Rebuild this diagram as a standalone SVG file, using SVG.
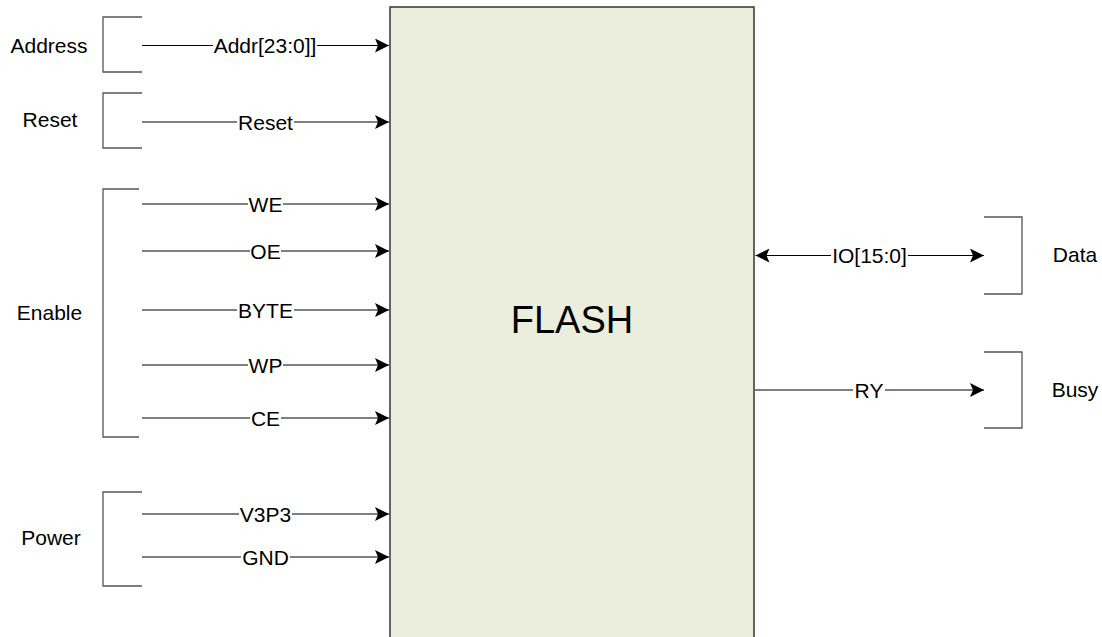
<svg xmlns="http://www.w3.org/2000/svg" width="1102" height="637" viewBox="0 0 1102 637">
<style>
text{font-family:"Liberation Sans",Arial,sans-serif;fill:#000}
.grp{font-size:21px;text-anchor:middle}
.lbl{font-size:21px;text-anchor:middle}
.br{fill:none;stroke:#555;stroke-width:1.3}
.wire{fill:none;stroke:#000;stroke-width:1}
.bg{fill:#fff}
</style>
<defs>
<marker id="arr" markerUnits="userSpaceOnUse" markerWidth="14" markerHeight="14" refX="14" refY="7" orient="auto-start-reverse">
<path d="M0,0 L14,7 L0,14 L3,7 z" fill="#000"/>
</marker>
</defs>
<rect width="1102" height="637" fill="#fff"/>
<g id="flash">
<rect x="390" y="7" width="364" height="640" fill="#ECEEDD" stroke="#333" stroke-width="1.5"/>
<text x="572" y="333" style="font-size:38px;text-anchor:middle">FLASH</text>
</g>
<g id="address">
<path class="br" d="M142,17 H103 V72 H142"/>
<text class="grp" x="49" y="53">Address</text>
</g>
<g id="reset">
<path class="br" d="M142,93 H103 V148 H142"/>
<text class="grp" x="50" y="127">Reset</text>
</g>
<g id="enable">
<path class="br" d="M139,189 H103 V437 H139"/>
<text class="grp" x="49.5" y="320">Enable</text>
</g>
<g id="power">
<path class="br" d="M142,492 H103 V586 H142"/>
<text class="grp" x="51" y="545">Power</text>
</g>
<g id="data">
<path class="br" d="M984,217 H1022 V294 H984"/>
<text class="grp" x="1075" y="262">Data</text>
</g>
<g id="busy">
<path class="br" d="M984,352 H1022 V428 H984"/>
<text class="grp" x="1075" y="397">Busy</text>
</g>
<g id="connectors">
<path class="wire" d="M142,45.5 H389" marker-end="url(#arr)"/>
<rect class="bg" x="213" y="35" width="104" height="22"/>
<text class="lbl" x="265" y="53">Addr[23:0]]</text>

<path class="wire" d="M142,122 H389" marker-end="url(#arr)"/>
<rect class="bg" x="237" y="111" width="57" height="22"/>
<text class="lbl" x="265.5" y="129.5">Reset</text>

<path class="wire" d="M142,204 H389" marker-end="url(#arr)"/>
<rect class="bg" x="248" y="193" width="35" height="22"/>
<text class="lbl" x="265.5" y="211.5">WE</text>

<path class="wire" d="M142,251 H389" marker-end="url(#arr)"/>
<rect class="bg" x="250" y="240" width="31" height="22"/>
<text class="lbl" x="265.5" y="258.5">OE</text>

<path class="wire" d="M142,310 H389" marker-end="url(#arr)"/>
<rect class="bg" x="237" y="299" width="57" height="22"/>
<text class="lbl" x="265.5" y="317.5">BYTE</text>

<path class="wire" d="M142,365 H389" marker-end="url(#arr)"/>
<rect class="bg" x="248" y="354" width="35" height="22"/>
<text class="lbl" x="265.5" y="372.5">WP</text>

<path class="wire" d="M142,418 H389" marker-end="url(#arr)"/>
<rect class="bg" x="250" y="407" width="31" height="22"/>
<text class="lbl" x="265.5" y="425.5">CE</text>

<path class="wire" d="M142,514 H389" marker-end="url(#arr)"/>
<rect class="bg" x="239" y="503" width="53" height="22"/>
<text class="lbl" x="265.5" y="521.5">V3P3</text>

<path class="wire" d="M142,557 H389" marker-end="url(#arr)"/>
<rect class="bg" x="241" y="546" width="49" height="22"/>
<text class="lbl" x="265.5" y="564.5">GND</text>

<path class="wire" d="M755.5,255.5 H984" marker-start="url(#arr)" marker-end="url(#arr)"/>
<rect class="bg" x="831" y="245" width="77" height="22"/>
<text class="lbl" x="869.5" y="263">IO[15:0]</text>

<path class="wire" d="M755,390 H984" marker-end="url(#arr)"/>
<rect class="bg" x="853" y="379" width="32" height="22"/>
<text class="lbl" x="869" y="397.5">RY</text>
</g>
</svg>
